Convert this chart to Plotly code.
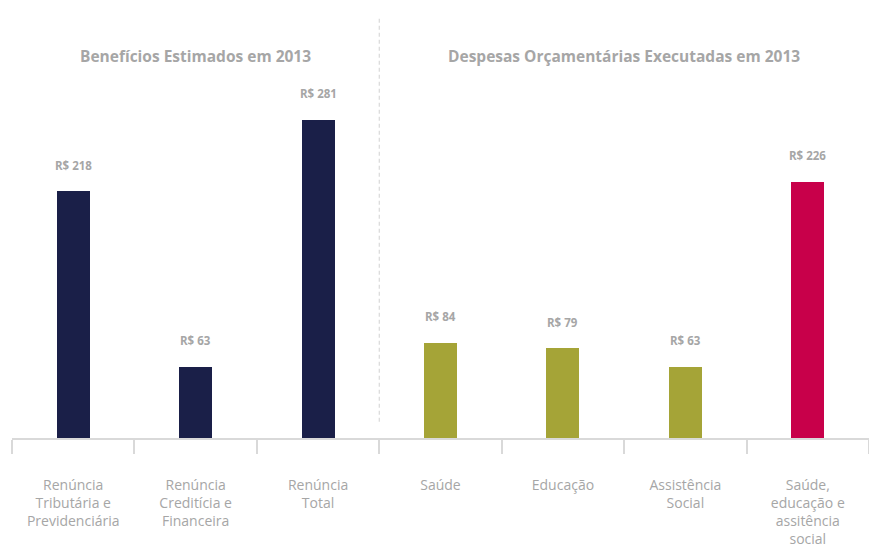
import plotly.graph_objects as go

categories = [
    "Renúncia<br>Tributária e<br>Previdenciária",
    "Renúncia<br>Creditícia e<br>Financeira",
    "Renúncia<br>Total",
    "Saúde",
    "Educação",
    "Assistência<br>Social",
    "Saúde,<br>educação e<br>assitência<br>social",
]
values = [218, 63, 281, 84, 79, 63, 226]
value_labels = ["R$ 218", "R$ 63", "R$ 281", "R$ 84", "R$ 79", "R$ 63", "R$ 226"]
bar_colors = ["#1a1f48", "#1a1f48", "#1a1f48", "#a5a437", "#a5a437", "#a5a437", "#c8004a"]
group_titles = ["Benefícios Estimados em 2013", "Despesas Orçamentárias Executadas em 2013"]
group_sizes = [3, 4]

FONT = "Open Sans"
GRAY = "#a6a6a6"
LINE = "#d9d9d9"

fig = go.Figure()
fig.add_trace(go.Bar(
    x=categories,
    y=values,
    marker=dict(color=bar_colors, line=dict(width=0)),
    width=0.27,
    hoverinfo="skip",
))

for i, (v, t) in enumerate(zip(values, value_labels)):
    fig.add_annotation(x=i, y=v, text=f"<b>{t}</b>", showarrow=False,
                       yshift=26, font=dict(family=FONT, size=11.5, color=GRAY))

# group titles
start = 0
for title, n in zip(group_titles, group_sizes):
    center = start + (n - 1) / 2
    fig.add_annotation(x=center, xref="x", y=0.872, yref="paper", text=f"<b>{title}</b>",
                       showarrow=False, font=dict(family=FONT, size=15.5, color=GRAY),
                       xanchor="center", yanchor="middle")
    start += n

# separator between groups
sep = group_sizes[0] - 0.5
fig.add_shape(type="line", xref="x", yref="paper", x0=sep, x1=sep, y0=0.037, y1=0.962,
              line=dict(color=LINE, width=1.2, dash="4px,3px"))

fig.update_layout(
    width=869, height=547,
    margin=dict(l=12, r=0, t=0, b=109),
    paper_bgcolor="white", plot_bgcolor="white",
    showlegend=False,
    bargap=0,
    xaxis=dict(
        type="category",
        range=[-0.5, len(categories) - 0.5],
        showline=True, linecolor=LINE, linewidth=1.5,
        ticks="outside", ticklen=14, tickcolor=LINE, tickwidth=1.5,
        tickson="boundaries",
        showgrid=False, zeroline=False,
        tickfont=dict(family=FONT, size=14, color=GRAY),
        ticklabelstandoff=33,
        tickangle=0,
    ),
    yaxis=dict(range=[0, 438 / 1.133], visible=False, showgrid=False, zeroline=False),
)

fig.write_html("out.html")
